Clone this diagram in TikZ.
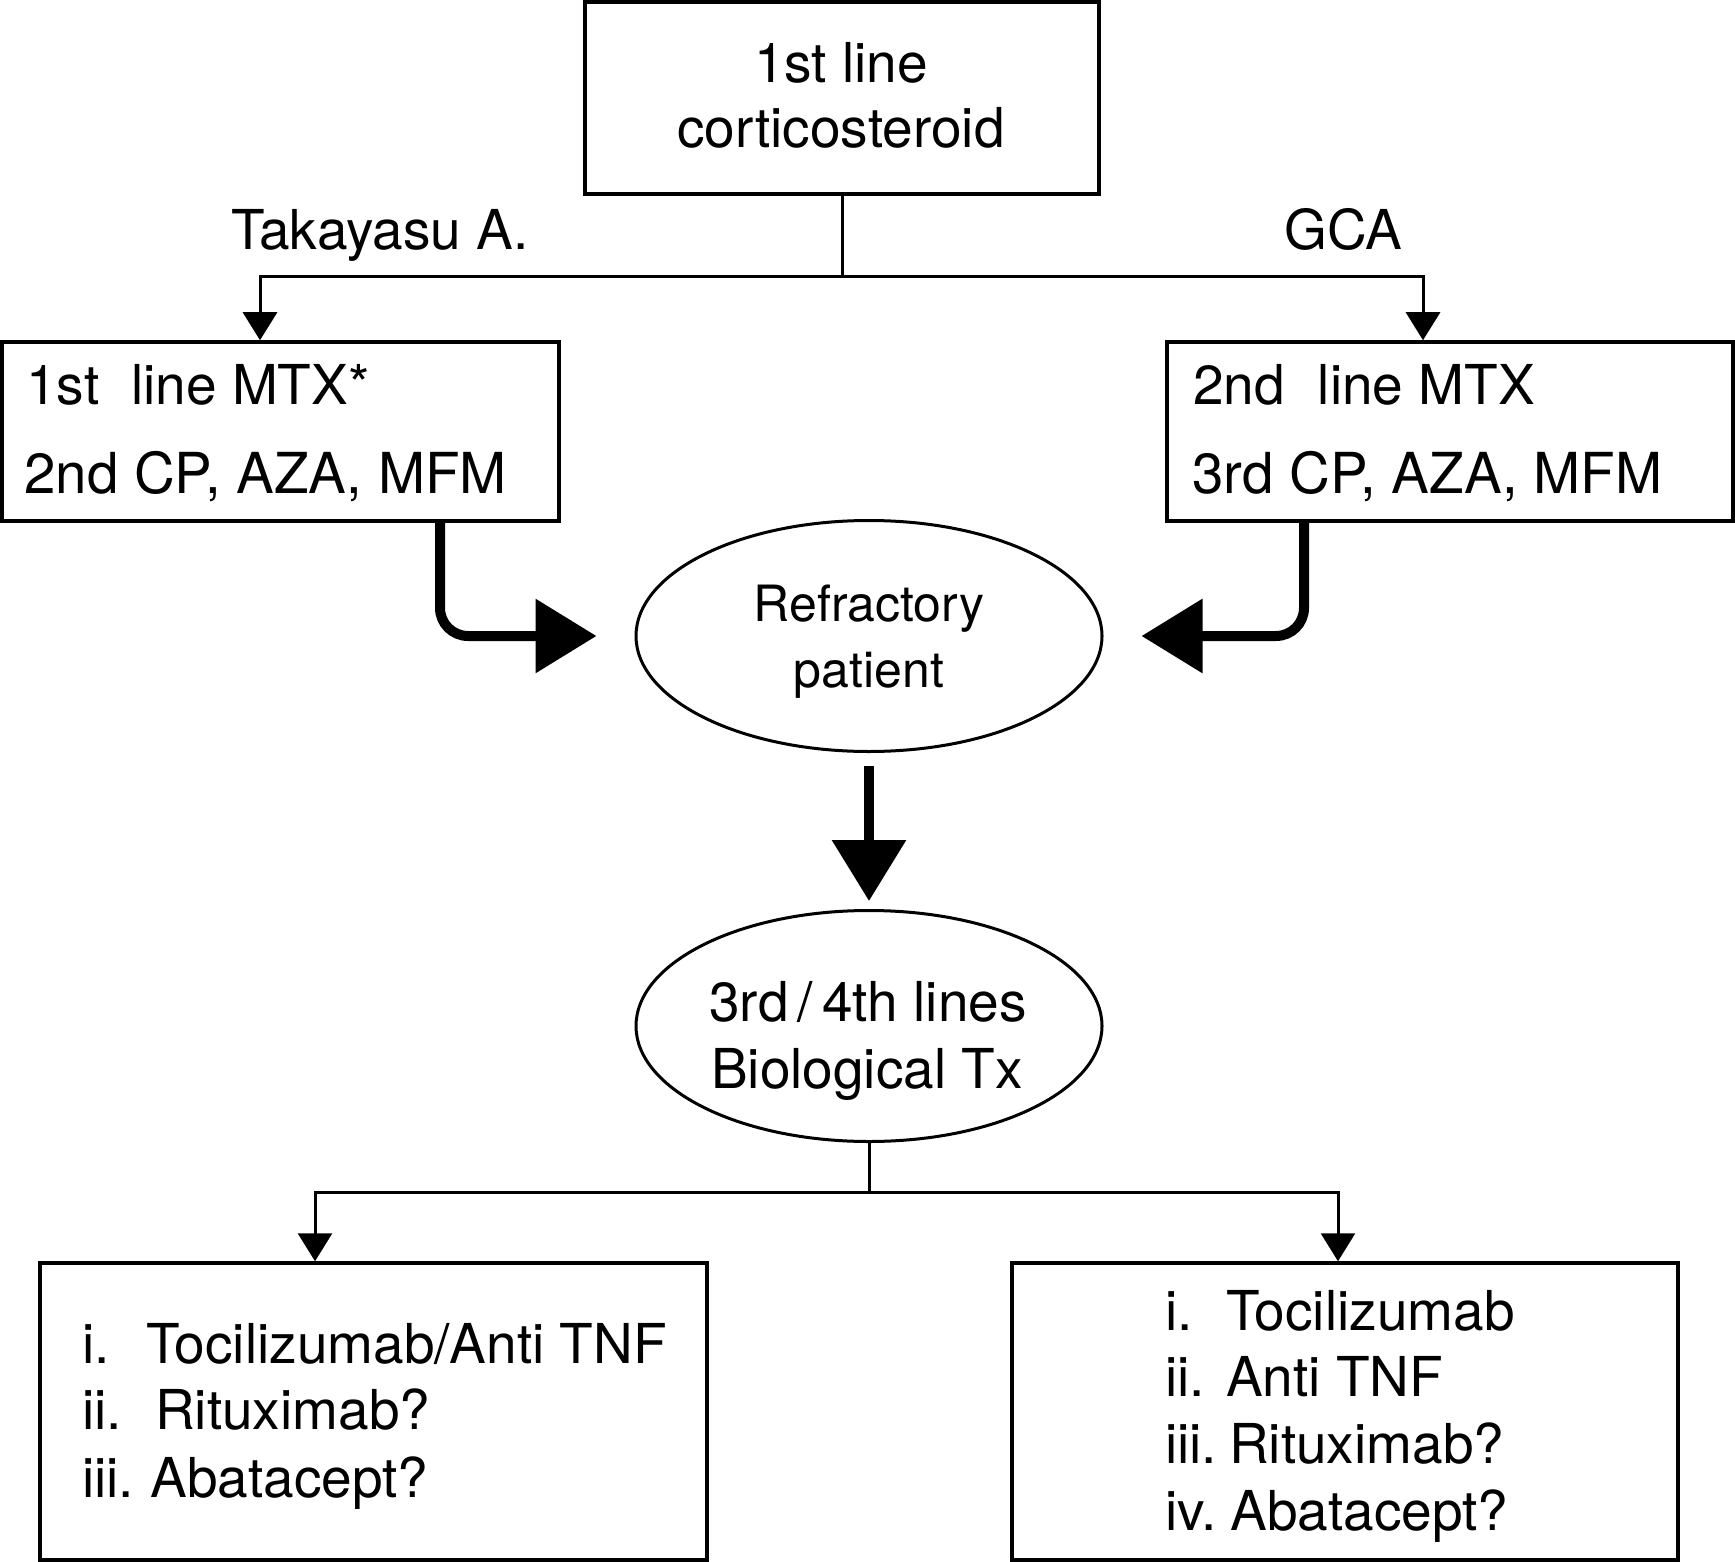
\documentclass[tikz,border=0pt]{standalone}
\usepackage{fontspec}
\setmainfont{TeX Gyre Heros}
\usetikzlibrary{arrows.meta,shapes.geometric}
\begin{document}
\begin{tikzpicture}[x=1pt,y=-1pt,
  box/.style={draw, line width=3.5pt, rectangle, inner sep=0pt},
  oval/.style={draw, line width=3pt, ellipse, inner sep=0pt, minimum width=466pt, minimum height=231pt},
  txt/.style={inner sep=0pt, font=\fontsize{55}{66}\selectfont},
  txtb/.style={inner sep=0pt, font=\fontsize{56.5}{66}\selectfont},
  lbl/.style={inner sep=0pt, font=\fontsize{55}{64}\selectfont},
  otxt/.style={inner sep=0pt, font=\fontsize{50}{60}\selectfont},
  thinline/.style={line width=3pt},
  thinarrow/.style={line width=3pt, -{Triangle[length=28pt,width=34pt]}},
  fatarrow/.style={line width=10pt, -{Triangle[length=61pt,width=72pt]}},
]
\fill[white] (0,0) rectangle (1735,1562);
\useasboundingbox (0,0) rectangle (1735,1562);

% shapes
\node[box, minimum width=514pt, minimum height=192pt] (top) at (842,98) {};
\node[box, minimum width=557pt, minimum height=179pt] (L) at (280.5,431.5) {};
\node[box, minimum width=566pt, minimum height=179pt] (R) at (1450,431.5) {};
\node[oval] (e1) at (869,636) {};
\node[oval] (e2) at (869,1026) {};
\node[box, minimum width=667pt, minimum height=297pt] (BL) at (373.5,1411.5) {};
\node[box, minimum width=666pt, minimum height=297pt] (BR) at (1345,1411.5) {};

% texts
\node[txt, anchor=base] (t1) at (841,83) {1st line};
\node[txt, anchor=base] (t2) at (841,148) {corticosteroid};
\node[lbl, anchor=base] (lta) at (380,250) {Takayasu A.};
\node[lbl, anchor=base] (lgca) at (1343,250) {GCA};
\node[txt, anchor=base west] (l1) at (26,404) {1st\hspace{32pt}line MTX*};
\node[txtb, anchor=base west] (l2) at (24,493) {2nd CP, AZA, MFM};
\node[txt, anchor=base west] (r1) at (1193,404) {2nd\hspace{33pt}line MTX};
\node[txtb, anchor=base west] (r2) at (1192,493) {3rd CP, AZA, MFM};
\node[otxt, anchor=base] (e1a) at (869,621) {Refractory};
\node[otxt, anchor=base] (e1b) at (869,687) {patient};
\node[txt, anchor=base] (e2a) at (868,1021) {3rd\,/\,4th lines};
\node[txt, anchor=base] (e2b) at (867,1088) {Biological Tx};
\node[txt, anchor=base west] (bl1) at (82,1363) {\makebox[64pt][l]{i.}Tocilizumab/Anti TNF};
\node[txt, anchor=base west] (bl2) at (82,1429) {\makebox[73pt][l]{ii.}Rituximab?};
\node[txt, anchor=base west] (bl3) at (82,1497) {\makebox[68pt][l]{iii.}Abatacept?};
\node[txt, anchor=base west] (br1) at (1165,1330) {\makebox[61pt][l]{i.}Tocilizumab};
\node[txt, anchor=base west] (br2) at (1165,1396) {\makebox[61pt][l]{ii.}Anti TNF};
\node[txt, anchor=base west] (br3) at (1165,1463) {\makebox[64pt][l]{iii.}Rituximab?};
\node[txt, anchor=base west] (br4) at (1165,1530) {\makebox[65pt][l]{iv.}Abatacept?};

% connectors
\coordinate (jt) at (842,277);
\draw[thinline] (top.south) -- (jt);
\draw[thinarrow] (jt) -| ([xshift=-20.5pt]L.north);
\draw[thinarrow] (jt) -| ([xshift=-27pt]R.north);

\coordinate (jb) at (869,1192);
\draw[thinline] (e2.south) -- (jb);
\draw[thinarrow] (jb) -| ([xshift=-58.5pt]BL.north);
\draw[thinarrow] (jb) -| ([xshift=-7pt]BR.north);

\draw[fatarrow, rounded corners=28pt] ([xshift=159.5pt]L.south) |- ([xshift=-38pt]e1.west);
\draw[fatarrow, rounded corners=28pt] ([xshift=-146pt]R.south) |- ([xshift=38pt]e1.east);
\draw[fatarrow] ([yshift=-13pt]e1.south) -- ([yshift=8pt]e2.north);
\end{tikzpicture}
\end{document}
